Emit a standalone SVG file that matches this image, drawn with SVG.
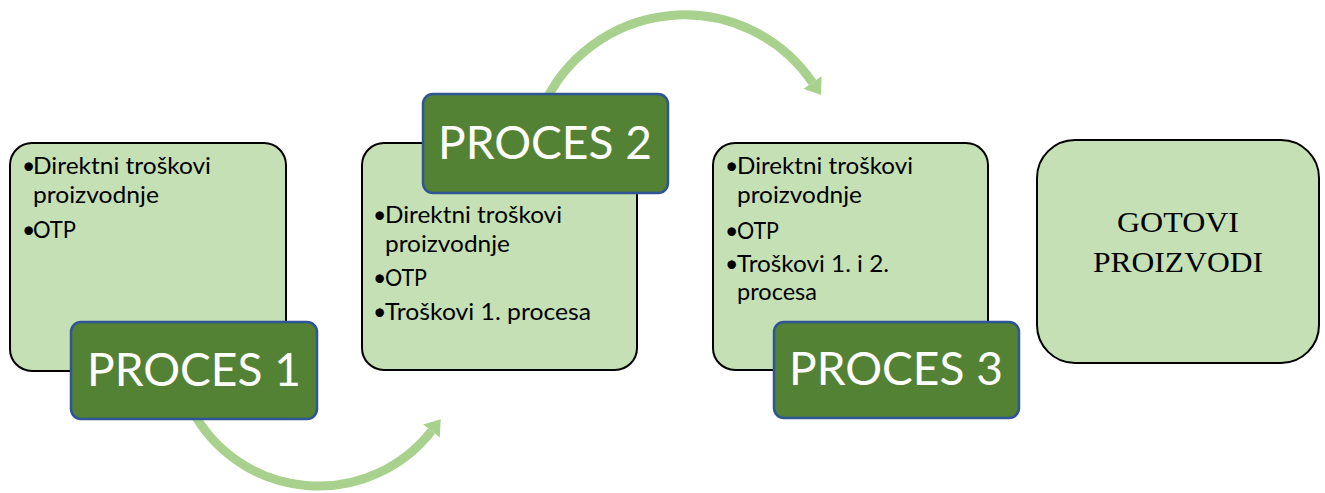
<svg xmlns="http://www.w3.org/2000/svg" width="1325" height="493" viewBox="0 0 1325 493">
<style>
.light{fill:#C5E0B4;stroke:#000;stroke-width:2}
.dark{fill:#548235;stroke:#2F5597;stroke-width:2.5}
.arc{fill:none;stroke:#A9D18E;stroke-width:9}
.head{fill:#A9D18E}
.bt{font-family:Lato,"Liberation Sans",sans-serif;font-size:23px;fill:#000}
.pt{font-family:Lato,"Liberation Sans",sans-serif;font-size:47px;fill:#fff;text-anchor:middle}
.gt{font-family:"Liberation Serif","Times New Roman",serif;font-size:30px;fill:#000;text-anchor:middle}
</style>
<rect width="1325" height="493" fill="#fff"/>
<g id="connectors">
<path class="arc" d="M 192 410 A 143.3 143.3 0 0 0 431.5 431"/>
<polygon class="head" points="440.7,419.2 439.8,437.5 423.2,424.5"/>
<path class="arc" d="M 541.5 110 A 155 155 0 0 1 812.5 82.5"/>
<polygon class="head" points="821,95 821.6,76.3 803.4,88.7"/>
</g>
<g id="box1">
<rect class="light" x="10" y="143" width="276" height="228" rx="22"/>
<text class="bt" x="22" y="174">•</text>
<text class="bt" x="33" y="174" textLength="178" lengthAdjust="spacingAndGlyphs">Direktni troškovi</text>
<text class="bt" x="33" y="203" textLength="126" lengthAdjust="spacingAndGlyphs">proizvodnje</text>
<text class="bt" x="22" y="238">•</text>
<text class="bt" x="33" y="238" textLength="43" lengthAdjust="spacingAndGlyphs">OTP</text>
</g>
<g id="proces1">
<rect class="dark" x="71" y="322" width="246" height="97" rx="10"/>
<text class="pt" x="194" y="386" textLength="214" lengthAdjust="spacingAndGlyphs">PROCES 1</text>
</g>
<g id="box2">
<rect class="light" x="362" y="143" width="275" height="227" rx="22"/>
<text class="bt" x="373" y="223">•</text>
<text class="bt" x="385" y="223" textLength="177" lengthAdjust="spacingAndGlyphs">Direktni troškovi</text>
<text class="bt" x="385" y="252" textLength="125" lengthAdjust="spacingAndGlyphs">proizvodnje</text>
<text class="bt" x="373" y="286">•</text>
<text class="bt" x="385" y="286" textLength="42" lengthAdjust="spacingAndGlyphs">OTP</text>
<text class="bt" x="373" y="320">•</text>
<text class="bt" x="385" y="320" textLength="206" lengthAdjust="spacingAndGlyphs">Troškovi 1. procesa</text>
</g>
<g id="proces2">
<rect class="dark" x="423" y="94" width="245" height="99" rx="10"/>
<text class="pt" x="545" y="159" textLength="214" lengthAdjust="spacingAndGlyphs">PROCES 2</text>
</g>
<g id="box3">
<rect class="light" x="713" y="143" width="275" height="227" rx="22"/>
<text class="bt" x="725" y="174">•</text>
<text class="bt" x="737" y="174" textLength="176" lengthAdjust="spacingAndGlyphs">Direktni troškovi</text>
<text class="bt" x="737" y="203" textLength="125" lengthAdjust="spacingAndGlyphs">proizvodnje</text>
<text class="bt" x="725" y="239">•</text>
<text class="bt" x="737" y="239" textLength="42" lengthAdjust="spacingAndGlyphs">OTP</text>
<text class="bt" x="725" y="272">•</text>
<text class="bt" x="737" y="272" textLength="152" lengthAdjust="spacingAndGlyphs">Troškovi 1. i 2.</text>
<text class="bt" x="737" y="300" textLength="80" lengthAdjust="spacingAndGlyphs">procesa</text>
</g>
<g id="proces3">
<rect class="dark" x="774" y="322" width="245" height="96" rx="10"/>
<text class="pt" x="896" y="385" textLength="214" lengthAdjust="spacingAndGlyphs">PROCES 3</text>
</g>
<g id="gotovi">
<rect class="light" x="1037" y="140" width="282" height="223" rx="38"/>
<text class="gt" x="1178" y="232" textLength="122" lengthAdjust="spacingAndGlyphs">GOTOVI</text>
<text class="gt" x="1178" y="272" textLength="170" lengthAdjust="spacingAndGlyphs">PROIZVODI</text>
</g>
</svg>
